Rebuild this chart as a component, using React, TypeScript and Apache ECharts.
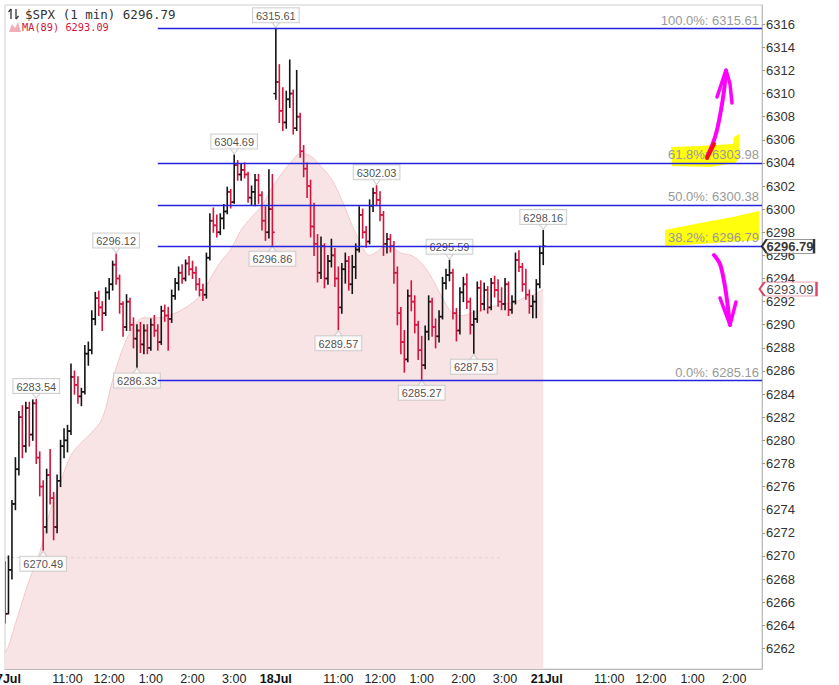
import { useEffect, useRef } from 'react'
import * as echarts from 'echarts'

const FONT = '"Liberation Sans", Arial, sans-serif'
const UP = '#141414'
const DOWN = '#d4143c'

// 5-minute slots from 9:30 on each session
const days = ['17Jul', '18Jul', '21Jul']
const slotsPerDay = 78
const totalSlots = 219
const categories: string[] = []
for (let i = 0; i < totalSlots; i++) {
  const d = Math.floor(i / slotsPerDay)
  const m = 570 + (i % slotsPerDay) * 5
  categories.push(`${days[d]} ${Math.floor(m / 60)}:${String(m % 60).padStart(2, '0')}`)
}

const xTicks: [number, string][] = [
  [0, '17Jul'], [18, '11:00'], [30, '12:00'], [42, '1:00'], [54, '2:00'], [66, '3:00'],
  [78, '18Jul'], [96, '11:00'], [108, '12:00'], [120, '1:00'], [132, '2:00'], [144, '3:00'],
  [156, '21Jul'], [174, '11:00'], [186, '12:00'], [198, '1:00'], [210, '2:00'],
]

const yTicks = [
  6262, 6264, 6266, 6268, 6270, 6272, 6274, 6276, 6278, 6280, 6282, 6284, 6286, 6288,
  6290, 6292, 6294, 6296, 6298, 6300, 6302, 6304, 6306, 6308, 6310, 6312, 6314, 6316,
]

// [open, high, low, close]
const bars17: number[][] = [
  [6268, 6269.5, 6264.2, 6265], [6265, 6270, 6265, 6268.8], [6268.8, 6274.8, 6268, 6274.5],
  [6274.5, 6278.5, 6274, 6277.5], [6277.5, 6282.5, 6277, 6282], [6282, 6283, 6278.5, 6279.5],
  [6279.5, 6283.3, 6279, 6282.8], [6282.8, 6283.3, 6279.5, 6280.5], [6280.5, 6283.5, 6280, 6283.2],
  [6283.2, 6283.54, 6278, 6278.5], [6278.5, 6279, 6275.2, 6276], [6276, 6276.5, 6270.49, 6272.5],
  [6272.5, 6277.5, 6272, 6277], [6277, 6279.2, 6274.5, 6275], [6275, 6275.5, 6271.4, 6272.5],
  [6272.5, 6277, 6272, 6276.5], [6276.5, 6280, 6276, 6279.5], [6279.5, 6281, 6278.5, 6280],
  [6280, 6281.3, 6279, 6280.8], [6280.8, 6286.6, 6280.5, 6285.5], [6285.5, 6286, 6284, 6284.8],
  [6284.8, 6285.5, 6283.2, 6283.8], [6283.8, 6284.5, 6283, 6284.2], [6284.2, 6288.2, 6284, 6287.5],
  [6287.5, 6288.5, 6286.5, 6287.8], [6287.8, 6291.2, 6287.5, 6290.5], [6290.5, 6292.8, 6290, 6292.3],
  [6292.3, 6292.9, 6290.8, 6291.5], [6291.5, 6292, 6289.5, 6291], [6291, 6293.2, 6290.8, 6292.8],
  [6292.8, 6294, 6292.2, 6293.5], [6293.5, 6295.5, 6293, 6295.2], [6295.2, 6296.12, 6293.5, 6294],
  [6294, 6294.3, 6291, 6291.8], [6291.8, 6292, 6289, 6289.8], [6289.8, 6292.6, 6289.5, 6292],
  [6292, 6292.3, 6289.5, 6290], [6290, 6290.6, 6288, 6288.8], [6288.8, 6290, 6286.33, 6289.5],
  [6289.5, 6290.2, 6287.6, 6288.3], [6288.3, 6290, 6287.5, 6289.5], [6289.5, 6290, 6287.5, 6288],
  [6288, 6290.5, 6287.8, 6290], [6290, 6290.8, 6289, 6289.5], [6289.5, 6290, 6287.8, 6288.5],
  [6288.5, 6291.6, 6288.3, 6291.2], [6291.2, 6291.7, 6290.3, 6290.8], [6290.8, 6291.5, 6287.8, 6290.5],
  [6290.5, 6293, 6290.2, 6292.5], [6292.5, 6294, 6292.2, 6293.6], [6293.6, 6295, 6293, 6294.5],
  [6294.5, 6295.2, 6293.6, 6294], [6294, 6295.6, 6293.8, 6295.3], [6295.3, 6295.9, 6294.3, 6294.8],
  [6294.8, 6295.5, 6294, 6294.5], [6294.5, 6295, 6293, 6293.5], [6293.5, 6294, 6292.5, 6293],
  [6293, 6293.5, 6292.1, 6292.6], [6292.6, 6296.2, 6292.3, 6295.8], [6295.8, 6299.6, 6295.6, 6299],
  [6299, 6300.1, 6298, 6298.6], [6298.6, 6299.5, 6297.6, 6298], [6298, 6299.6, 6297.8, 6299.2],
  [6299.2, 6300.4, 6298.3, 6299.8], [6299.8, 6301.9, 6299.6, 6301.5], [6301.5, 6301.7, 6300.1, 6300.6],
  [6300.6, 6304.69, 6300.5, 6303.8], [6303.8, 6304.2, 6302.5, 6303], [6303, 6303.9, 6302.5, 6303.4],
  [6303.4, 6304, 6302.7, 6303], [6303, 6303.2, 6300.6, 6301], [6301, 6302, 6300.4, 6301.5],
  [6301.5, 6303, 6300.3, 6302.5], [6302.5, 6303, 6300.5, 6301.2], [6301.2, 6301.5, 6298.2, 6299],
  [6299, 6300.2, 6297.3, 6298], [6298, 6303.4, 6297.5, 6300], [6300, 6303, 6296.86, 6298],
]

const bars18: number[][] = [
  [6310, 6315.61, 6309.5, 6311], [6311, 6312.5, 6307.5, 6308.5], [6308.5, 6310.5, 6306.8, 6307.5],
  [6307.5, 6310.2, 6307, 6309.5], [6309.5, 6312.9, 6308.8, 6310], [6310, 6310.3, 6306.5, 6307],
  [6307, 6312, 6306.8, 6308], [6308, 6308.3, 6304.5, 6305], [6305, 6305.5, 6302.8, 6303.5],
  [6303.5, 6304, 6301, 6302], [6302, 6302.5, 6297.6, 6298.5], [6298.5, 6300.5, 6296, 6297],
  [6297, 6297.8, 6293.7, 6294.5], [6294.5, 6297.6, 6294, 6296.8], [6296.8, 6297, 6293.2, 6294],
  [6294, 6296, 6293.5, 6295.5], [6295.5, 6297.4, 6295, 6296], [6296, 6296.6, 6293.3, 6294],
  [6294, 6295, 6289.57, 6291.5], [6291.5, 6295.3, 6291, 6294.8], [6294.8, 6296.2, 6293.6, 6295.5],
  [6295.5, 6295.9, 6293, 6293.5], [6293.5, 6296, 6292.7, 6295], [6295, 6297, 6294, 6296.5],
  [6296.5, 6300.2, 6296.3, 6299.5], [6299.5, 6300, 6297.5, 6298], [6298, 6298.5, 6296.7, 6297.2],
  [6297.2, 6300.8, 6297, 6300.3], [6300.3, 6301.8, 6299.8, 6301.4], [6301.4, 6302.03, 6300.3, 6300.8],
  [6300.8, 6301.5, 6299, 6299.5], [6299.5, 6299.8, 6296, 6297], [6297, 6297.9, 6296.2, 6297.4],
  [6297.4, 6297.8, 6296.3, 6296.8], [6296.8, 6297.2, 6293.6, 6294.5], [6294.5, 6295, 6290, 6291],
  [6291, 6291.5, 6287.5, 6288.5], [6288.5, 6289.5, 6285.9, 6287], [6287, 6293, 6286.8, 6292.5],
  [6292.5, 6293.8, 6291.2, 6292], [6292, 6292.5, 6289.3, 6290], [6290, 6290.3, 6287, 6287.8],
  [6287.8, 6289, 6285.27, 6286.5], [6286.5, 6289.9, 6286.2, 6289.4], [6289.4, 6292.5, 6288.7, 6292],
  [6292, 6292.3, 6289, 6289.8], [6289.8, 6290.5, 6288, 6289], [6289, 6291.2, 6288.5, 6290.7],
  [6290.7, 6294.1, 6290.5, 6293.6], [6293.6, 6294.8, 6293.1, 6294.3], [6294.3, 6295.59, 6293.8, 6294.5],
  [6294.5, 6294.8, 6290.5, 6291], [6291, 6291.4, 6288.6, 6289.5], [6289.5, 6293.2, 6289.2, 6292.8],
  [6292.8, 6294.1, 6292, 6293.5], [6293.5, 6294.4, 6291.4, 6292], [6292, 6292.3, 6289.2, 6290],
  [6290, 6291.2, 6287.53, 6290.5], [6290.5, 6293.7, 6290.2, 6293.2], [6293.2, 6293.8, 6291.2, 6291.8],
  [6291.8, 6293.6, 6291.3, 6293], [6293, 6293.3, 6291, 6291.5], [6291.5, 6294, 6291.3, 6293.6],
  [6293.6, 6294.2, 6292.4, 6293], [6293, 6293.9, 6291.6, 6292], [6292, 6293.2, 6291.3, 6291.8],
  [6291.8, 6294, 6291.3, 6293.5], [6293.5, 6293.7, 6290.8, 6291.3], [6291.3, 6292.5, 6291, 6292],
  [6292, 6296.2, 6291.8, 6295.6], [6295.6, 6296.4, 6294.6, 6295], [6295, 6295.3, 6292.9, 6293.5],
  [6293.5, 6294.8, 6292.2, 6292.6], [6292.6, 6293, 6291, 6291.6], [6291.6, 6292.5, 6290.6, 6292],
  [6292, 6293.9, 6290.6, 6293.5], [6293.5, 6296.8, 6293.2, 6296.2], [6296.2, 6298.16, 6295.2, 6296.79],
]

// MA(89): [slot, value]
const maPoints: [number, number][] = [
  [0, 6261.6], [1, 6262.2], [4, 6265.1], [7, 6267.9], [10, 6270.3], [13, 6273.9], [16, 6276.4],
  [19, 6278.7], [22, 6279.8], [25, 6280.7], [28, 6281.9], [31, 6285.2], [34, 6288.0], [37, 6289.8],
  [40, 6290.6], [44, 6290.6], [48, 6290.9], [51, 6291.3], [54, 6291.9], [57, 6292.8], [59, 6293.9],
  [62, 6295.4], [65, 6296.5], [68, 6298.2], [71, 6299.3], [74, 6300.3], [77, 6301.9], [80, 6303.2],
  [83, 6304.3], [85, 6304.8], [88, 6304.6], [91, 6303.7], [94, 6302.6], [97, 6300.8], [99, 6299.3],
  [101, 6297.9], [103, 6296.7], [105, 6296.0], [107, 6296.3], [109, 6296.7], [111, 6296.7],
  [114, 6296.2], [117, 6296.0], [120, 6295.3], [123, 6294.0], [126, 6292.3], [129, 6291.0],
  [132, 6290.8], [135, 6291.1], [138, 6291.3], [141, 6291.6], [144, 6291.8], [147, 6292.0],
  [150, 6292.4], [153, 6292.7], [155, 6293.09],
]

const prevClose = 6269.85
const prevCloseEnd = 143

const fibPct = ['100.0%', '61.8%', '50.0%', '38.2%', '0.0%']
const fibValues = [6315.61, 6303.98, 6300.38, 6296.79, 6285.16]
const fibStart = 44

const peaks: [number, number][] = [
  [9, 6283.54], [32, 6296.12], [66, 6304.69], [78, 6315.61], [107, 6302.03], [128, 6295.59], [155, 6298.16],
]
const troughs: [number, number][] = [
  [11, 6270.49], [38, 6286.33], [77, 6296.86], [96, 6289.57], [120, 6285.27], [135, 6287.53],
]

const lastPrice = 6296.79
const lastMA = 6293.09

const App: React.FC = () => {
  const chartRef = useRef<HTMLDivElement>(null)

  useEffect(() => {
    if (!chartRef.current) return
    const chart = echarts.init(chartRef.current, undefined, { renderer: 'svg' })

    const bars = [...bars17, ...bars18].map((b, i) => [i, b[0], b[1], b[2], b[3]])
    const tickMap = new Map(xTicks)
    const dayLabels = new Set(days)
    const lastSlot = totalSlots - 1

    const boxLabel = {
      show: true,
      fontFamily: FONT,
      fontSize: 11,
      color: '#222',
      backgroundColor: '#fff',
      borderColor: '#c4c4c4',
      borderWidth: 1,
      padding: [2, 3, 1, 3],
      formatter: (p: any) => p.value[1].toFixed(2),
    }

    const option = {
      animation: false,
      grid: {
        left: 5,
        right: 77,
        top: 5,
        bottom: 16,
        show: true,
        borderColor: '#cfcfcf',
        borderWidth: 1,
        containLabel: false,
        outerBoundsMode: 'none',
      },
      xAxis: {
        type: 'category',
        data: categories,
        boundaryGap: false,
        axisLine: { lineStyle: { color: '#bbb' } },
        axisTick: { show: false },
        splitLine: { show: false },
        axisLabel: {
          interval: (index: number) => tickMap.has(index),
          formatter: (_v: string, index: number) => {
            const t = tickMap.get(index) || ''
            return dayLabels.has(t) ? `{b|${t}}` : t
          },
          alignMinLabel: 'center',
          fontFamily: FONT,
          fontSize: 12.5,
          lineHeight: 13,
          color: '#222',
          margin: 3,
          rich: { b: { fontFamily: FONT, fontSize: 12.5, lineHeight: 13, fontWeight: 'bold', color: '#111' } },
        },
      },
      yAxis: {
        type: 'value',
        position: 'right',
        min: 6260.22,
        max: 6317.66,
        splitLine: { show: false },
        axisLine: { show: true, lineStyle: { color: '#bbb' } },
        axisTick: { show: true, length: 3, customValues: yTicks, lineStyle: { color: '#999' } },
        axisLabel: {
          customValues: yTicks,
          formatter: (v: number) => String(v),
          fontFamily: FONT,
          fontSize: 13,
          color: '#333',
          margin: 4,
        },
      },
      series: [
        {
          name: 'MA(89)',
          type: 'line',
          data: maPoints,
          smooth: 0.4,
          symbol: 'none',
          z: 1,
          silent: true,
          lineStyle: { color: '#f2c9ce', width: 1 },
          areaStyle: { color: '#f8e4e5', origin: 'start', opacity: 1 },
        },
        {
          name: 'prev',
          type: 'line',
          data: [[0, prevClose], [prevCloseEnd, prevClose]],
          symbol: 'none',
          z: 2,
          silent: true,
          lineStyle: { color: '#d6d6d6', width: 1, type: [3, 3] },
          markLine: {
            silent: true,
            symbol: 'none',
            animation: false,
            lineStyle: { color: '#2424e0', width: 1.3, type: 'solid' },
            label: {
              show: true,
              position: 'insideEndTop',
              distance: [3, 2],
              fontFamily: FONT,
              fontSize: 13,
              color: '#999',
            },
            emphasis: { disabled: true },
            data: fibValues.map((v, k) => [
              { coord: [fibStart, v], label: { formatter: `${fibPct[k]}: ${v.toFixed(2)}` } },
              { coord: [lastSlot, v] },
            ]),
          },
        },
        {
          name: '$SPX',
          type: 'custom',
          data: bars,
          dimensions: ['i', 'open', 'high', 'low', 'close'],
          encode: { x: 0, y: [1, 2, 3, 4] },
          z: 3,
          clip: true,
          silent: true,
          renderItem: (_params: any, api: any) => {
            const i = api.value(0)
            const o = api.value(1)
            const h = api.value(2)
            const l = api.value(3)
            const c = api.value(4)
            const top = api.coord([i, h])
            const bot = api.coord([i, l])
            const po = api.coord([i, o])
            const pc = api.coord([i, c])
            const style = { stroke: c >= o ? UP : DOWN, lineWidth: 1.6 }
            return {
              type: 'group',
              children: [
                { type: 'line', shape: { x1: top[0], y1: top[1] - 0.5, x2: bot[0], y2: bot[1] + 0.5 }, style },
                { type: 'line', shape: { x1: po[0] - 2.4, y1: po[1], x2: po[0], y2: po[1] }, style },
                { type: 'line', shape: { x1: pc[0], y1: pc[1], x2: pc[0] + 2.4, y2: pc[1] }, style },
              ],
            }
          },
        },
        {
          name: 'highs',
          type: 'scatter',
          data: peaks,
          z: 4,
          silent: true,
          symbol: 'path://M0,0L10,0L5,7Z',
          symbolSize: [9, 6],
          symbolOffset: [0, -4],
          itemStyle: { color: '#fff', borderColor: '#c4c4c4', borderWidth: 1 },
          label: { ...boxLabel, position: 'top', distance: -1 },
        },
        {
          name: 'lows',
          type: 'scatter',
          data: troughs,
          z: 4,
          silent: true,
          symbol: 'path://M5,0L10,7L0,7Z',
          symbolSize: [9, 6],
          symbolOffset: [0, 4],
          itemStyle: { color: '#fff', borderColor: '#c4c4c4', borderWidth: 1 },
          label: { ...boxLabel, position: 'bottom', distance: -1 },
        },
        {
          name: 'tags',
          type: 'scatter',
          z: 6,
          clip: false,
          silent: true,
          symbol: 'path://M0,7L5,0L56,0L56,14L5,14Z',
          data: [
            {
              value: [lastSlot, lastPrice],
              symbolSize: [52, 14],
              symbolOffset: [26, 0],
              itemStyle: { color: '#fff', borderColor: '#000', borderWidth: 1.3 },
              label: {
                show: true,
                position: 'inside',
                offset: [2, 0],
                formatter: lastPrice.toFixed(2),
                fontFamily: FONT,
                fontSize: 13,
                fontWeight: 'bold',
                color: '#000',
              },
            },
            {
              value: [lastSlot, lastMA],
              symbolSize: [57, 14],
              symbolOffset: [26, 0],
              itemStyle: { color: '#fff', borderColor: '#d4143c', borderWidth: 1.2 },
              label: {
                show: true,
                position: 'inside',
                offset: [2, 0],
                formatter: lastMA.toFixed(2),
                fontFamily: FONT,
                fontSize: 13,
                color: '#111',
              },
            },
          ],
        },
      ],
      graphic: [
        // header: small up/down arrows icon
        {
          type: 'group',
          children: [
            { type: 'line', shape: { x1: 11, y1: 9, x2: 11, y2: 19 }, style: { stroke: '#333', lineWidth: 1.3 } },
            { type: 'line', shape: { x1: 11, y1: 9, x2: 8.5, y2: 12 }, style: { stroke: '#333', lineWidth: 1.3 } },
            { type: 'line', shape: { x1: 16, y1: 9, x2: 16, y2: 19 }, style: { stroke: '#333', lineWidth: 1.3 } },
            { type: 'line', shape: { x1: 16, y1: 19, x2: 18.5, y2: 16 }, style: { stroke: '#333', lineWidth: 1.3 } },
          ],
        },
        {
          type: 'text',
          x: 25,
          y: 14,
          style: {
            text: '$SPX (1 min) 6296.79',
            font: '12.5px "DejaVu Sans Mono"',
            fill: '#333',
            verticalAlign: 'middle',
          },
        },
        {
          type: 'polygon',
          shape: { points: [[9, 32], [12, 24], [15, 28], [18, 22], [21, 32]] },
          style: { fill: '#efb1b9' },
        },
        {
          type: 'text',
          x: 22,
          y: 27,
          style: {
            text: 'MA(89) 6293.09',
            font: '10.3px "DejaVu Sans Mono"',
            fill: '#d4143c',
            verticalAlign: 'middle',
          },
        },
        // yellow highlighter marks
        {
          type: 'polygon',
          z: 0,
          shape: {
            points: [[671, 147], [700, 146], [733, 144], [734, 137], [739, 134], [740, 157], [735, 163], [710, 167], [672, 166]],
          },
          style: { fill: '#ffff00', opacity: 0.95 },
        },
        {
          type: 'polygon',
          z: 0,
          shape: {
            points: [[665, 230], [700, 223], [733, 217], [759, 211], [759, 240], [730, 242], [700, 244], [665, 246]],
          },
          style: { fill: '#ffff00', opacity: 0.95 },
        },
        // hand-drawn arrows
        {
          type: 'polyline',
          z: 100,
          shape: {
            points: [[707, 157], [713, 143], [717, 130], [721, 110], [724, 91], [726, 71]],
            smooth: 0.3,
          },
          style: { stroke: '#ff00ff', lineWidth: 4, lineCap: 'round', lineJoin: 'round' },
        },
        {
          type: 'polyline',
          z: 100,
          shape: { points: [[717, 97], [726, 70], [730, 84], [732, 103]] },
          style: { stroke: '#ff00ff', lineWidth: 3.5, lineCap: 'round', lineJoin: 'round' },
        },
        {
          type: 'line',
          z: 101,
          shape: { x1: 707, y1: 158, x2: 714, y2: 144 },
          style: { stroke: '#ff1010', lineWidth: 4, lineCap: 'round' },
        },
        {
          type: 'polyline',
          z: 100,
          shape: {
            points: [[714, 255], [720, 264], [724, 281], [727, 300], [730, 325]],
            smooth: 0.3,
          },
          style: { stroke: '#ff00ff', lineWidth: 4, lineCap: 'round', lineJoin: 'round' },
        },
        {
          type: 'polyline',
          z: 100,
          shape: { points: [[720, 298], [730, 325], [736, 302]] },
          style: { stroke: '#ff00ff', lineWidth: 3.5, lineCap: 'round', lineJoin: 'round' },
        },
      ],
    }

    chart.setOption(option)

    return () => {
      chart.dispose()
    }
  }, [])

  return (
    <div
      ref={chartRef}
      style={{ position: 'absolute', left: 0, top: 0, width: '839px', height: '685px', background: '#fff' }}
    />
  )
}

export default App
